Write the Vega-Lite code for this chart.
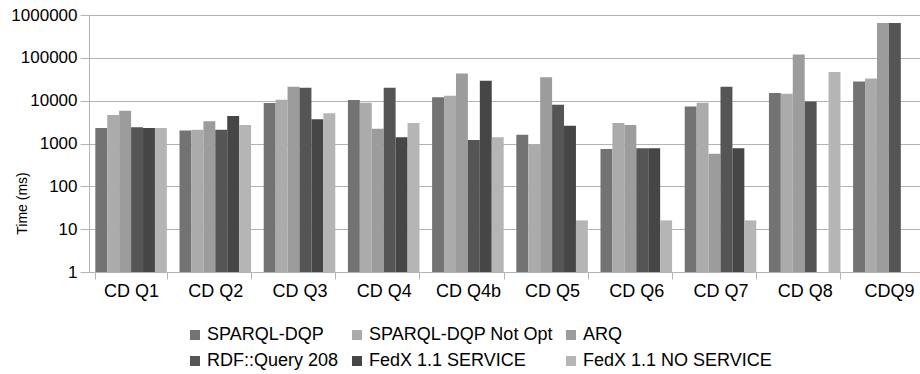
{
  "$schema": "https://vega.github.io/schema/vega-lite/v6.json",
  "width": 831,
  "height": 257,
  "autosize": {"type": "none"},
  "padding": {"left": 89, "top": 15, "right": 0, "bottom": 102},
  "background": "white",
  "config": {"view": {"stroke": null}, "font": "Liberation Sans"},
  "data": {"values": [
    {"q": "CD Q1", "s": "SPARQL-DQP", "v": 2300},
    {"q": "CD Q1", "s": "SPARQL-DQP Not Opt", "v": 4600},
    {"q": "CD Q1", "s": "ARQ", "v": 5800},
    {"q": "CD Q1", "s": "RDF::Query 208", "v": 2400},
    {"q": "CD Q1", "s": "FedX 1.1 SERVICE", "v": 2300},
    {"q": "CD Q1", "s": "FedX 1.1 NO SERVICE", "v": 2300},
    {"q": "CD Q2", "s": "SPARQL-DQP", "v": 2000},
    {"q": "CD Q2", "s": "SPARQL-DQP Not Opt", "v": 2100},
    {"q": "CD Q2", "s": "ARQ", "v": 3300},
    {"q": "CD Q2", "s": "RDF::Query 208", "v": 2100},
    {"q": "CD Q2", "s": "FedX 1.1 SERVICE", "v": 4400},
    {"q": "CD Q2", "s": "FedX 1.1 NO SERVICE", "v": 2700},
    {"q": "CD Q3", "s": "SPARQL-DQP", "v": 8800},
    {"q": "CD Q3", "s": "SPARQL-DQP Not Opt", "v": 10500},
    {"q": "CD Q3", "s": "ARQ", "v": 21000},
    {"q": "CD Q3", "s": "RDF::Query 208", "v": 20000},
    {"q": "CD Q3", "s": "FedX 1.1 SERVICE", "v": 3700},
    {"q": "CD Q3", "s": "FedX 1.1 NO SERVICE", "v": 5100},
    {"q": "CD Q4", "s": "SPARQL-DQP", "v": 10300},
    {"q": "CD Q4", "s": "SPARQL-DQP Not Opt", "v": 9000},
    {"q": "CD Q4", "s": "ARQ", "v": 2200},
    {"q": "CD Q4", "s": "RDF::Query 208", "v": 20000},
    {"q": "CD Q4", "s": "FedX 1.1 SERVICE", "v": 1400},
    {"q": "CD Q4", "s": "FedX 1.1 NO SERVICE", "v": 3000},
    {"q": "CD Q4b", "s": "SPARQL-DQP", "v": 12000},
    {"q": "CD Q4b", "s": "SPARQL-DQP Not Opt", "v": 13000},
    {"q": "CD Q4b", "s": "ARQ", "v": 43000},
    {"q": "CD Q4b", "s": "RDF::Query 208", "v": 1200},
    {"q": "CD Q4b", "s": "FedX 1.1 SERVICE", "v": 29000},
    {"q": "CD Q4b", "s": "FedX 1.1 NO SERVICE", "v": 1400},
    {"q": "CD Q5", "s": "SPARQL-DQP", "v": 1600},
    {"q": "CD Q5", "s": "SPARQL-DQP Not Opt", "v": 950},
    {"q": "CD Q5", "s": "ARQ", "v": 35000},
    {"q": "CD Q5", "s": "RDF::Query 208", "v": 8000},
    {"q": "CD Q5", "s": "FedX 1.1 SERVICE", "v": 2600},
    {"q": "CD Q5", "s": "FedX 1.1 NO SERVICE", "v": 16},
    {"q": "CD Q6", "s": "SPARQL-DQP", "v": 740},
    {"q": "CD Q6", "s": "SPARQL-DQP Not Opt", "v": 3000},
    {"q": "CD Q6", "s": "ARQ", "v": 2700},
    {"q": "CD Q6", "s": "RDF::Query 208", "v": 770},
    {"q": "CD Q6", "s": "FedX 1.1 SERVICE", "v": 770},
    {"q": "CD Q6", "s": "FedX 1.1 NO SERVICE", "v": 16},
    {"q": "CD Q7", "s": "SPARQL-DQP", "v": 7300},
    {"q": "CD Q7", "s": "SPARQL-DQP Not Opt", "v": 9000},
    {"q": "CD Q7", "s": "ARQ", "v": 580},
    {"q": "CD Q7", "s": "RDF::Query 208", "v": 21000},
    {"q": "CD Q7", "s": "FedX 1.1 SERVICE", "v": 770},
    {"q": "CD Q7", "s": "FedX 1.1 NO SERVICE", "v": 16},
    {"q": "CD Q8", "s": "SPARQL-DQP", "v": 15000},
    {"q": "CD Q8", "s": "SPARQL-DQP Not Opt", "v": 14500},
    {"q": "CD Q8", "s": "ARQ", "v": 120000},
    {"q": "CD Q8", "s": "RDF::Query 208", "v": 9600},
    {"q": "CD Q8", "s": "FedX 1.1 NO SERVICE", "v": 47000},
    {"q": "CDQ9", "s": "SPARQL-DQP", "v": 28000},
    {"q": "CDQ9", "s": "SPARQL-DQP Not Opt", "v": 33000},
    {"q": "CDQ9", "s": "ARQ", "v": 650000},
    {"q": "CDQ9", "s": "RDF::Query 208", "v": 650000}
  ]},
  "mark": {"type": "bar"},
  "encoding": {
    "x": {
      "field": "q", "type": "nominal", "sort": null,
      "scale": {"rangeMax": 842, "paddingInner": 0.15, "paddingOuter": 0.075},
      "axis": {"title": null, "labelAngle": 0, "tickBand": "extent", "domainColor": "#b3b3b3", "tickColor": "#b3b3b3", "tickSize": 7, "labelFont": "Liberation Sans", "labelFontSize": 18, "labelColor": "black", "labelPadding": 3}
    },
    "xOffset": {
      "field": "s", "type": "nominal",
      "sort": ["SPARQL-DQP", "SPARQL-DQP Not Opt", "ARQ", "RDF::Query 208", "FedX 1.1 SERVICE", "FedX 1.1 NO SERVICE"],
      "scale": {"paddingInner": 0, "paddingOuter": 0}
    },
    "y": {
      "field": "v", "type": "quantitative",
      "scale": {"type": "log", "domain": [1, 1000000], "nice": false},
      "axis": {"values": [1, 10, 100, 1000, 10000, 100000, 1000000], "format": "d", "title": "Time (ms)", "titleFont": "Liberation Sans", "titleFontSize": 14, "titleFontWeight": "normal", "titleColor": "black", "titleX": -67, "titleY": 188, "titleBaseline": "middle", "titleAlign": "center", "titleAngle": -90, "gridColor": "#b3b3b3", "domainColor": "#b3b3b3", "tickColor": "#b3b3b3", "tickSize": 9, "labelPadding": 3, "labelFont": "Liberation Sans", "labelFontSize": 17, "labelColor": "black"}
    },
    "y2": {"datum": 1},
    "color": {
      "field": "s", "type": "nominal",
      "scale": {
        "domain": ["SPARQL-DQP", "SPARQL-DQP Not Opt", "ARQ", "RDF::Query 208", "FedX 1.1 SERVICE", "FedX 1.1 NO SERVICE"],
        "range": ["#737373", "#ababab", "#9c9c9c", "#555555", "#464646", "#b5b5b5"]
      },
      "legend": {"orient": "none", "legendX": 97, "legendY": 311, "direction": "horizontal", "columns": 3, "title": null, "symbolType": "square", "symbolSize": 100, "symbolStrokeWidth": 0, "labelFont": "Liberation Sans", "labelFontSize": 18, "labelColor": "black", "labelOffset": 3, "columnPadding": 9, "rowPadding": 8, "labelLimit": 300}
    }
  }
}
